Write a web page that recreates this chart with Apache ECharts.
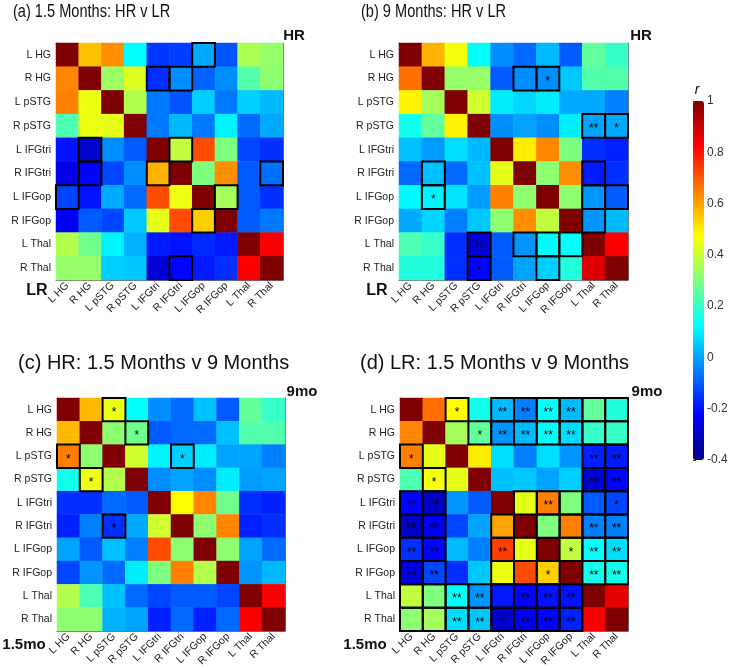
<!DOCTYPE html>
<html>
<head>
<meta charset="utf-8">
<script src="https://cdn.jsdelivr.net/npm/echarts@6/dist/echarts.min.js"></script>
<style>html,body{margin:0;padding:0;background:#fff}#c{width:731px;height:669px}</style>
</head>
<body>
<div id="c"></div>
<script>
const regions = ['L HG','R HG','L pSTG','R pSTG','L IFGtri','R IFGtri','L IFGop','R IFGop','L Thal','R Thal'];
const colorbarTicks = [-0.4, -0.2, 0, 0.2, 0.4, 0.6, 0.8, 1];

// (a) 1.5 Months: HR (upper) v LR (lower)
const valuesA = [
[1.00, 0.56, 0.63, 0.13, -0.15, -0.14, 0.01, -0.11, 0.36, 0.33],
[0.64, 1.00, 0.34, 0.43, -0.16, -0.03, -0.09, -0.03, 0.24, 0.32],
[0.65, 0.45, 1.00, 0.37, -0.06, -0.11, 0.06, -0.06, 0.06, 0.03],
[0.23, 0.45, 0.44, 1.00, -0.06, 0.03, -0.06, 0.11, -0.08, 0.01],
[-0.20, -0.29, -0.03, -0.10, 1.00, 0.39, 0.72, 0.30, -0.13, -0.16],
[-0.26, -0.22, -0.13, -0.03, 0.58, 1.00, 0.30, 0.63, -0.10, -0.07],
[-0.13, -0.20, 0.01, -0.08, 0.72, 0.45, 1.00, 0.35, -0.10, -0.16],
[-0.24, -0.10, -0.13, 0.05, 0.44, 0.72, 0.54, 1.00, -0.10, -0.06],
[0.37, 0.28, 0.11, 0.02, -0.19, -0.20, -0.17, -0.19, 1.00, 0.83],
[0.33, 0.33, 0.06, 0.05, -0.28, -0.22, -0.19, -0.16, 0.83, 1.00]
];
const sigA = [
[0,0,0,0,0,0,1,0,0,0],
[0,0,0,0,1,1,0,0,0,0],
[0,0,0,0,0,0,0,0,0,0],
[0,0,0,0,0,0,0,0,0,0],
[0,1,0,0,0,1,0,0,0,0],
[0,1,0,0,1,0,0,0,0,1],
[1,0,0,0,0,0,0,1,0,0],
[0,0,0,0,0,0,1,0,0,0],
[0,0,0,0,0,0,0,0,0,0],
[0,0,0,0,0,1,0,0,0,0]
];

// (b) 9 Months: HR v LR
const valuesB = [
[1.00, 0.58, 0.46, 0.13, -0.03, -0.08, 0.03, -0.10, 0.26, 0.20],
[0.67, 1.00, 0.33, 0.33, -0.10, -0.03, -0.03, 0.05, 0.24, 0.24],
[0.49, 0.35, 1.00, 0.41, 0.10, 0.07, 0.10, 0.01, 0.01, -0.05],
[0.15, 0.26, 0.49, 1.00, -0.03, 0.00, -0.03, 0.10, 0.00, 0.01],
[0.04, -0.01, 0.08, 0.03, 1.00, 0.50, 0.64, 0.30, -0.16, -0.18],
[-0.08, 0.04, -0.08, 0.04, 0.44, 1.00, 0.32, 0.63, -0.19, -0.16],
[0.12, 0.11, 0.09, -0.01, 0.65, 0.32, 1.00, 0.32, -0.02, -0.10],
[0.01, 0.07, -0.05, 0.05, 0.32, 0.63, 0.39, 1.00, -0.02, 0.03],
[0.23, 0.20, -0.16, -0.28, -0.10, -0.02, 0.12, 0.13, 1.00, 0.83],
[0.17, 0.17, -0.16, -0.22, -0.10, 0.00, 0.06, 0.17, 0.87, 1.00]
];
const sigB = [
[0,0,0,0,0,0,0,0,0,0],
[0,0,0,0,0,1,2,0,0,0],
[0,0,0,0,0,0,0,0,0,0],
[0,0,0,0,0,0,0,0,3,2],
[0,0,0,0,0,0,0,0,0,0],
[0,1,0,0,0,0,0,0,1,0],
[0,2,0,0,0,0,0,0,1,1],
[0,0,0,0,0,0,0,0,1,0],
[0,0,0,3,0,1,1,1,0,0],
[0,0,0,2,0,0,1,0,0,0]
];

// (c) HR: 1.5 Months (lower) v 9 Months (upper)
const valuesC = [
[1.00, 0.57, 0.45, 0.13, -0.03, -0.08, 0.04, -0.10, 0.26, 0.20],
[0.57, 1.00, 0.32, 0.28, -0.10, -0.08, -0.08, 0.04, 0.24, 0.24],
[0.65, 0.32, 1.00, 0.41, 0.11, 0.06, 0.10, 0.00, 0.00, -0.05],
[0.15, 0.45, 0.37, 1.00, -0.03, 0.00, -0.03, 0.10, -0.01, 0.00],
[-0.16, -0.16, -0.08, -0.10, 1.00, 0.48, 0.64, 0.28, -0.16, -0.18],
[-0.18, -0.05, -0.16, 0.01, 0.41, 1.00, 0.32, 0.64, -0.18, -0.16],
[0.00, -0.10, 0.04, -0.05, 0.72, 0.32, 1.00, 0.32, 0.00, -0.08],
[-0.13, -0.02, -0.08, 0.10, 0.30, 0.65, 0.37, 1.00, -0.02, 0.03],
[0.37, 0.23, 0.04, -0.08, -0.13, -0.10, -0.10, -0.13, 1.00, 0.83],
[0.32, 0.32, 0.02, 0.00, -0.18, -0.08, -0.18, -0.08, 0.83, 1.00]
];
const sigC = [
[0,0,2,0,0,0,0,0,0,0],
[0,0,0,2,0,0,0,0,0,0],
[2,0,0,0,0,2,0,0,0,0],
[0,2,0,0,0,0,0,0,0,0],
[0,0,0,0,0,0,0,0,0,0],
[0,0,2,0,0,0,0,0,0,0],
[0,0,0,0,0,0,0,0,0,0],
[0,0,0,0,0,0,0,0,0,0],
[0,0,0,0,0,0,0,0,0,0],
[0,0,0,0,0,0,0,0,0,0]
];

// (d) LR: 1.5 Months (lower) v 9 Months (upper)
const valuesD = [
[1.00, 0.67, 0.48, 0.15, 0.03, -0.05, 0.13, 0.03, 0.26, 0.17],
[0.64, 1.00, 0.35, 0.26, -0.02, 0.03, 0.13, 0.08, 0.20, 0.20],
[0.65, 0.44, 1.00, 0.50, 0.08, -0.05, 0.08, -0.02, -0.18, -0.19],
[0.23, 0.46, 0.44, 1.00, 0.04, 0.05, 0.00, 0.06, -0.29, -0.22],
[-0.22, -0.30, -0.02, -0.10, 1.00, 0.44, 0.65, 0.30, -0.10, -0.13],
[-0.30, -0.24, -0.13, 0.00, 0.60, 1.00, 0.30, 0.65, -0.05, -0.05],
[-0.16, -0.22, 0.03, -0.05, 0.74, 0.44, 1.00, 0.39, 0.13, 0.08],
[-0.27, -0.13, -0.16, 0.05, 0.45, 0.72, 0.54, 1.00, 0.15, 0.15],
[0.39, 0.30, 0.13, -0.02, -0.19, -0.22, -0.20, -0.20, 1.00, 0.86],
[0.32, 0.35, 0.08, 0.05, -0.29, -0.24, -0.22, -0.18, 0.83, 1.00]
];
const sigD = [
[0,0,2,0,3,3,3,3,1,1],
[0,0,0,2,3,3,3,3,1,1],
[2,0,0,0,0,0,0,0,3,3],
[0,2,0,0,0,0,0,0,3,3],
[3,3,0,0,0,1,3,1,1,2],
[3,3,0,0,1,0,1,1,3,3],
[3,3,0,0,3,1,0,2,3,3],
[3,3,0,0,1,1,2,0,3,3],
[1,1,3,3,1,3,3,3,0,0],
[1,1,3,3,2,3,3,3,0,0]
];

const jet = ['#00007F','#0000FF','#007FFF','#00FFFF','#7FFF7F','#FFFF00','#FF7F00','#FF0000','#7F0000'];
const FONT = '"Liberation Sans", Arial, sans-serif';

const panels = [
  {grid:{left:56, top:43, width:227, height:237}, values:valuesA, sig:sigA},
  {grid:{left:399, top:43, width:229, height:237}, values:valuesB, sig:sigB},
  {grid:{left:57, top:398, width:228, height:237}, values:valuesC, sig:sigC},
  {grid:{left:400, top:398, width:228, height:237}, values:valuesD, sig:sigD}
];

const grids = [], xAxes = [], yAxes = [], series = [];
const lineStyle = {color:'#777', width:1};
const tickStyle = {show:true, inside:true, length:3, alignWithLabel:true, lineStyle:{color:'#555'}};

panels.forEach((p, i) => {
  grids.push(p.grid);
  xAxes.push({type:'category', gridIndex:i, data:regions, position:'bottom',
    axisLine:{show:true, lineStyle}, axisTick:tickStyle,
    axisLabel:{rotate:45, fontSize:10.5, color:'#222', fontFamily:FONT, margin:4, interval:0},
    splitLine:{show:false}});
  xAxes.push({type:'category', gridIndex:i, data:regions, position:'top',
    axisLine:{show:true, lineStyle}, axisTick:tickStyle, axisLabel:{show:false}});
  yAxes.push({type:'category', gridIndex:i, data:regions, inverse:true, position:'left',
    axisLine:{show:true, lineStyle}, axisTick:tickStyle,
    axisLabel:{fontSize:10.5, color:'#222', fontFamily:FONT, margin:5, interval:0}});
  yAxes.push({type:'category', gridIndex:i, data:regions, inverse:true, position:'right',
    axisLine:{show:true, lineStyle}, axisTick:tickStyle, axisLabel:{show:false}});
});

panels.forEach((p, i) => {
  const data = [];
  p.values.forEach((row, r) => row.forEach((v, c) => data.push([c, r, v])));
  series.push({type:'heatmap', xAxisIndex:2*i, yAxisIndex:2*i, data, z:1,
    itemStyle:{borderWidth:0}, emphasis:{disabled:true}, progressive:0});
});

panels.forEach((p, i) => {
  const data = [];
  p.sig.forEach((row, r) => row.forEach((s, c) => { if (s) data.push([c, r, s]); }));
  series.push({type:'custom', xAxisIndex:2*i, yAxisIndex:2*i, data, z:5, silent:true,
    renderItem: function(params, api) {
      const c = api.coord([api.value(0), api.value(1)]);
      const s = api.size([1, 1]);
      const code = api.value(2);
      const children = [{type:'rect',
        shape:{x:c[0]-s[0]/2, y:c[1]-s[1]/2, width:s[0], height:s[1]},
        style:{fill:null, stroke:'#000', lineWidth:2}}];
      if (code > 1) {
        children.push({type:'text', style:{text: code === 3 ? '**' : '*',
          x:c[0], y:c[1]+3, align:'center', verticalAlign:'middle',
          fill:'#000', font:'12px ' + FONT}});
      }
      return {type:'group', children};
    }});
});

// colorbar axis grid
grids.push({left:693, top:101, width:11, height:359});
xAxes.push({type:'value', gridIndex:4, show:false});
yAxes.push({type:'value', gridIndex:4, min:colorbarTicks[0], max:colorbarTicks[colorbarTicks.length-1], interval:0.2,
  position:'right', axisLine:{show:false}, splitLine:{show:false},
  axisTick:{show:true, length:3, lineStyle:{color:'#333'}},
  axisLabel:{fontSize:12, color:'#333', fontFamily:FONT, margin:3,
    formatter: v => String(Math.round(v*10)/10)}});

const txt = (text, x, y, font, align, vAlign, sx) => ({type:'text', x, y, scaleX: sx || 1,
  style:{text, font, fill:'#111', align:align||'left', verticalAlign:vAlign||'top'}});

const option = {
  backgroundColor:'#fff',
  animation:false,
  grid:grids, xAxis:xAxes, yAxis:yAxes, series,
  visualMap:{type:'continuous', min:-0.4, max:1, seriesIndex:[0,1,2,3],
    inRange:{color:jet}, left:693, top:101, itemWidth:11, itemHeight:359,
    padding:0, calculable:false, text:null, show:true, hoverLink:false},
  graphic:[
    txt('(a) 1.5 Months: HR v LR', 13, 3, '18px ' + FONT, 'left', 'top', 0.81),
    txt('(b) 9 Months: HR v LR', 361, 3, '18px ' + FONT, 'left', 'top', 0.81),
    txt('(c) HR: 1.5 Months v 9 Months', 18, 353, '20px ' + FONT),
    txt('(d) LR: 1.5 Months v 9 Months', 360, 353, '20px ' + FONT),
    txt('HR', 294, 36, 'bold 15px ' + FONT, 'center', 'middle'),
    txt('LR', 37, 291, 'bold 16px ' + FONT, 'center', 'middle'),
    txt('HR', 641, 36, 'bold 15px ' + FONT, 'center', 'middle'),
    txt('LR', 377, 291, 'bold 16px ' + FONT, 'center', 'middle'),
    txt('9mo', 302, 392, 'bold 15px ' + FONT, 'center', 'middle'),
    txt('1.5mo', 24, 645, 'bold 15px ' + FONT, 'center', 'middle'),
    txt('9mo', 647, 392, 'bold 15px ' + FONT, 'center', 'middle'),
    txt('1.5mo', 365, 645, 'bold 15px ' + FONT, 'center', 'middle'),
    txt('r', 697, 90, 'italic 14px ' + FONT, 'center', 'middle')
  ]
};

const chart = echarts.init(document.getElementById('c'), null, {renderer:'canvas'});
chart.setOption(option);
</script>
</body>
</html>
